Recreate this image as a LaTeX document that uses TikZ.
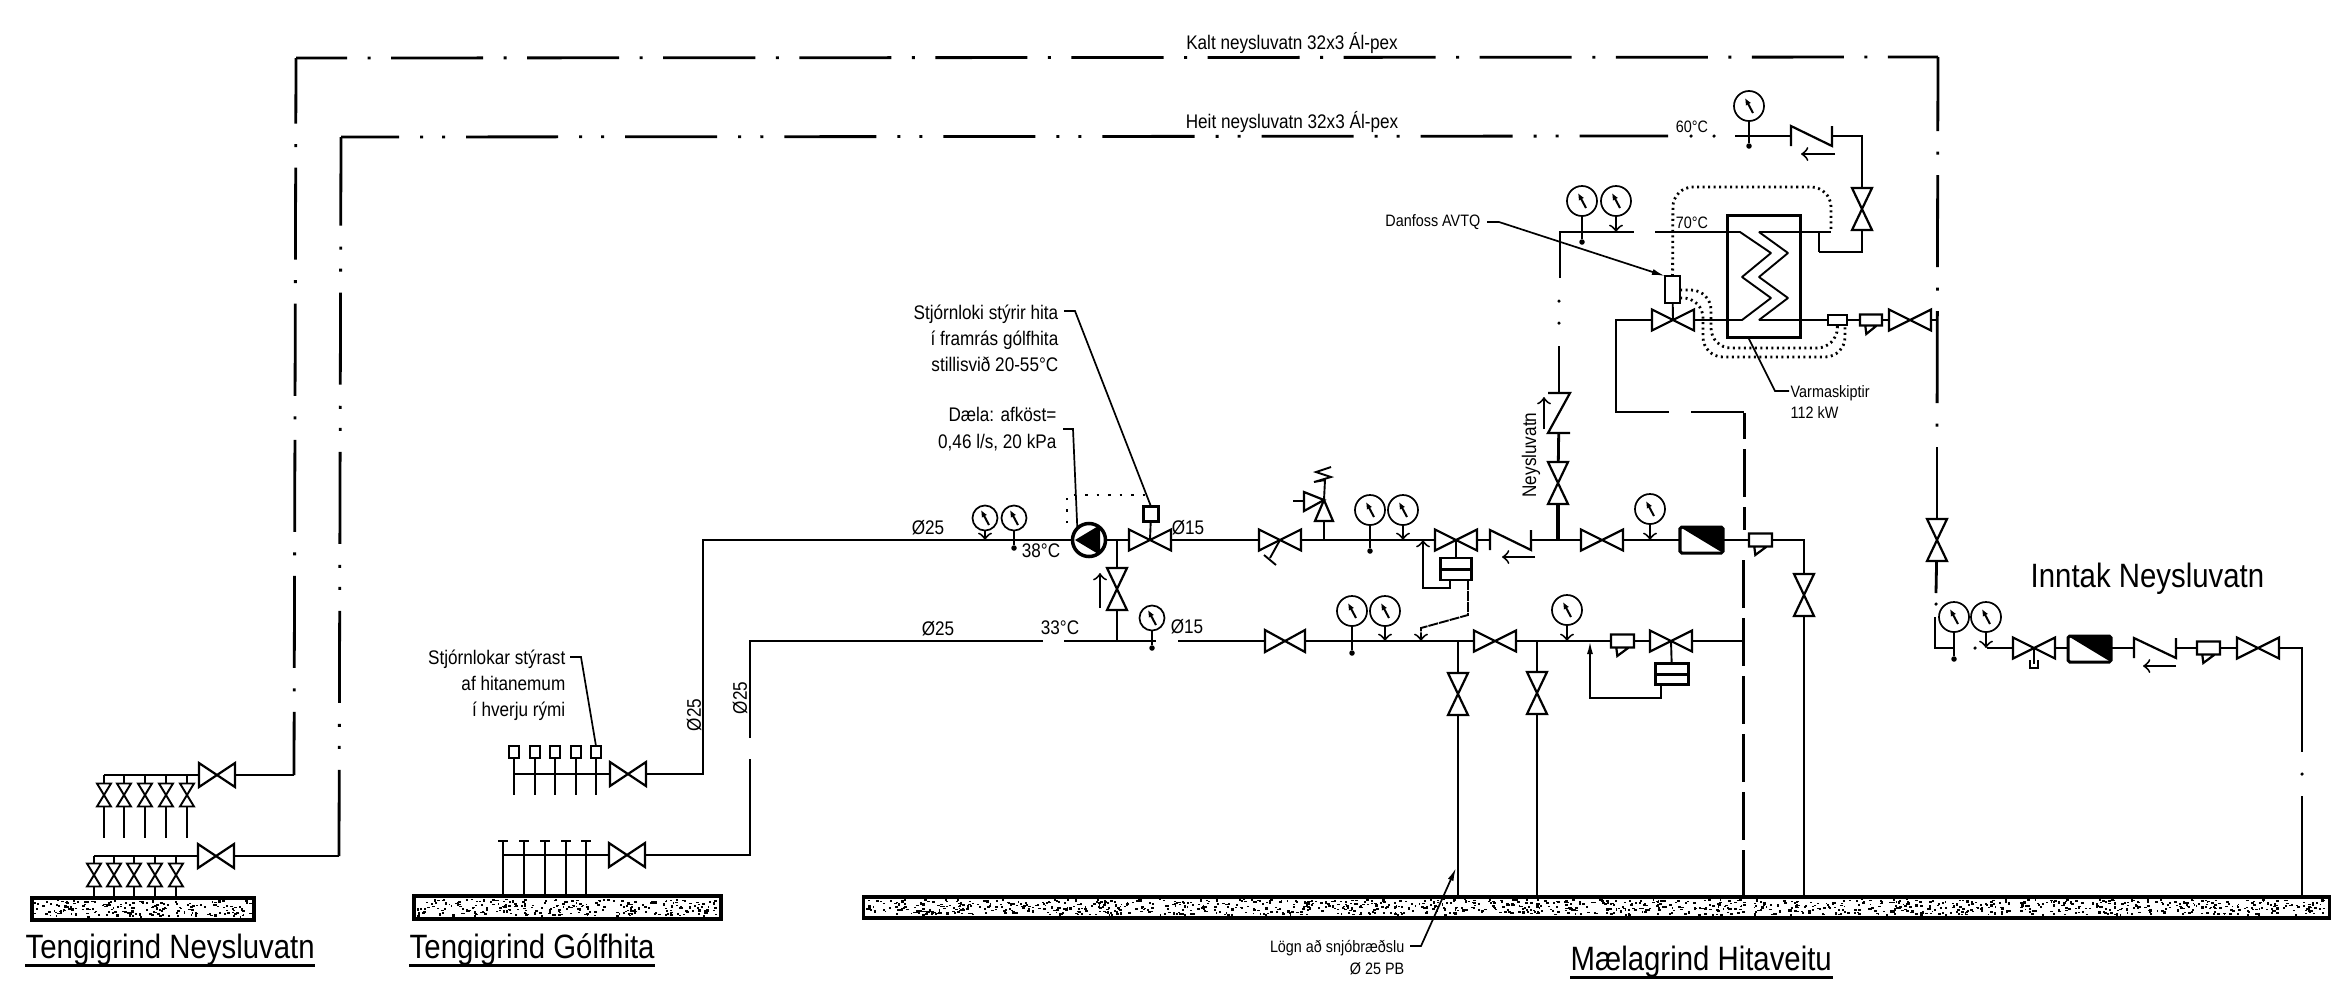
\documentclass[tikz,border=0pt]{standalone}
\usepackage{fontspec}
\usepackage{tikz}
\usetikzlibrary{arrows.meta}

\newfontfamily\narrowfont[FakeStretch=0.87]{Liberation Sans}
\newcommand{\bigtxt}{\narrowfont\fontsize{9.6}{11}\selectfont}
\newcommand{\midtxt}{\narrowfont\fontsize{5.6}{7.4}\selectfont}
\newcommand{\smalltxt}{\narrowfont\fontsize{4.7}{6}\selectfont}

\makeatletter
\def\symA{\pgfqpoint{\pgf@xa}{\pgf@ya}}
\def\symB{\pgfqpoint{\pgf@xb}{\pgf@yb}}
\def\symC{\pgfqpoint{\pgf@xb}{\pgf@ya}}
\def\symD{\pgfqpoint{\pgf@xa}{\pgf@yb}}
\newcommand{\declsymbol}[2]{%
  \pgfdeclareshape{#1}{%
    \inheritsavedanchors[from=rectangle]
    \inheritanchorborder[from=rectangle]
    \inheritanchor[from=rectangle]{center}
    \inheritanchor[from=rectangle]{north}
    \inheritanchor[from=rectangle]{south}
    \inheritanchor[from=rectangle]{east}
    \inheritanchor[from=rectangle]{west}
    \backgroundpath{%
      \southwest \pgf@xa=\pgf@x \pgf@ya=\pgf@y
      \northeast \pgf@xb=\pgf@x \pgf@yb=\pgf@y
      #2}}}
\declsymbol{bowtieh}{\pgfpathmoveto{\symA}\pgfpathlineto{\symB}\pgfpathlineto{\symC}\pgfpathlineto{\symD}\pgfpathclose}
\declsymbol{bowtiev}{\pgfpathmoveto{\symA}\pgfpathlineto{\symC}\pgfpathlineto{\symD}\pgfpathlineto{\symB}\pgfpathclose}
\declsymbol{slanth}{\pgfpathmoveto{\symA}\pgfpathlineto{\symD}\pgfpathlineto{\symC}\pgfpathlineto{\symB}}
\declsymbol{slantv}{\pgfpathmoveto{\symD}\pgfpathlineto{\symB}\pgfpathlineto{\symA}\pgfpathlineto{\symC}}
\declsymbol{strainer}{\pgfpathmoveto{\symA}\pgfpathlineto{\symC}\pgfpathlineto{\symB}\pgfpathlineto{\symD}\pgfpathclose
  \pgfpathmoveto{\pgfqpoint{\dimexpr\pgf@xa+1.5pt\relax}{\pgf@ya}}
  \pgfpathlineto{\pgfqpoint{\dimexpr\pgf@xa+1.8pt\relax}{\dimexpr\pgf@ya-2.4pt\relax}}
  \pgfpathlineto{\pgfqpoint{\dimexpr\pgf@xb-1.5pt\relax}{\pgf@ya}}}
\makeatother

% one gauge, arrow stem onto the pipe
\newcommand{\gaugearrow}[5][gauge]{
  \node[#1] (#2) at (#3,#4) {};
  \coordinate (#2p) at (#3,#5);
  \draw[stem,->] (#2) -- (#2p);
}
% one gauge, stem through the pipe to a dot
\newcommand{\gaugedot}[5][gauge]{
  \node[#1] (#2) at (#3,#4) {};
  \node[tapdot] (#2p) at (#3,#5) {};
  \draw[stem] (#2) -- (#2p);
}
\newcommand{\flow}[5]{
  \coordinate (#1s) at (#2,#3);
  \coordinate (#1e) at (#4,#5);
  \draw[stem,->] (#1s) -- (#1e);
}
\newcommand{\speckle}[5]{
  \foreach \n in {1,...,#5}{\fill ({#1+rnd*#3},{#2+rnd*#4}) rectangle +({1.5+rnd*1.5},{1+rnd*1.5});}
}

\begin{document}
\begin{tikzpicture}[x=.01cm,y=-.01cm,
    pipe/.style={line width=.028cm},
    stem/.style={line width=.019cm},
    sym/.style={draw,line width=.022cm,inner sep=0pt,outer sep=0pt},
    valveh/.style={sym,shape=bowtieh,fill=white,minimum width=.42cm,minimum height=.21cm},
    valvem/.style={sym,shape=bowtieh,fill=white,minimum width=.36cm,minimum height=.24cm},
    valvev/.style={sym,shape=bowtiev,fill=white,minimum width=.2cm,minimum height=.42cm},
    valves/.style={sym,shape=bowtiev,fill=white,line width=.019cm,minimum width=.14cm,minimum height=.23cm},
    checkh/.style={sym,shape=slanth,minimum width=.41cm,minimum height=.2cm},
    checkv/.style={sym,shape=slantv,minimum width=.22cm,minimum height=.4cm},
    strain/.style={sym,shape=strainer,fill=white,minimum width=.23cm,minimum height=.13cm},
    boxsm/.style={sym,rectangle,fill=white},
    floorbar/.style={draw,line width=.032cm,inner sep=0pt,outer sep=0pt},
    meter/.style={sym,rectangle,line width=.03cm,rounded corners=.5pt,minimum width=.43cm,minimum height=.26cm,
      path picture={\fill (path picture bounding box.north west) -- (path picture bounding box.north east) -- (path picture bounding box.south east) -- cycle;}},
    actuator/.style={sym,rectangle,fill=white,minimum width=.33cm,minimum height=.21cm,
      path picture={\draw[line width=.03cm] (path picture bounding box.west) -- (path picture bounding box.east);}},
    gauge/.style={draw,circle,line width=.017cm,fill=white,inner sep=0pt,outer sep=0pt,minimum size=.3cm,
      path picture={\draw[line width=.02cm,-{Latex[black,length=.07cm,width=.06cm]}] ([shift={(4,7)}]path picture bounding box.center) -- ([shift={(-4,-8)}]path picture bounding box.center);}},
    gaugesm/.style={gauge,minimum size=.25cm},
    tapdot/.style={circle,fill,inner sep=0pt,minimum size=.055cm},
    pipedot/.style={circle,fill,inner sep=0pt,minimum size=.035cm},
    coldline/.style={line width=.028cm,dash pattern=on .92cm off .205cm on .03cm off .205cm},
    hotline/.style={line width=.028cm,dash pattern=on .92cm off .21cm on .03cm off .19cm on .03cm off .21cm},
    longdash/.style={line width=.03cm,dash pattern=on .48cm off .10cm},
    dotline/.style={line width=.028cm,dash pattern=on .02cm off .035cm},
    leader/.style={line width=.017cm},
    slim/.style={-{Latex[length=.13cm,width=.06cm]}},
    >=to]
  \useasboundingbox (0,0) rectangle (2344,999);
  \pgfmathsetseed{7}

  % floors
  \node[floorbar,minimum width=2.22cm,minimum height=.22cm] (floorA) at (143,909) {};
  \node[floorbar,minimum width=3.07cm,minimum height=.23cm] (floorB) at (567.5,907.5) {};
  \node[floorbar,minimum width=14.65cm,minimum height=.21cm] (floorC) at (1596.5,907.5) {};
  \speckle{34}{900}{217}{16}{190}
  \speckle{416}{899}{302}{16}{270}
  \speckle{866}{899}{1458}{15}{1250}

  % Tengigrind Neysluvatn
  \node[valvem] (vColdA) at (217,775) {};
  \node[valvem] (vHotA) at (216,856) {};
  \coordinate (hdrCold) at (104,775);
  \coordinate (hdrHot) at (94,856);
  \draw[pipe] (hdrCold) -- (vColdA);
  \draw[pipe] (hdrHot) -- (vHotA);
  \foreach \x in {104,124,145,166,187}{
    \node[valves] (c\x) at (\x,795) {};
    \coordinate (cTop\x) at (\x,775);
    \coordinate (cEnd\x) at (\x,838);
    \draw[stem] (cTop\x) -- (c\x) -- (cEnd\x);
  }
  \foreach \x in {94,114,134,155,176}{
    \node[valves] (h\x) at (\x,875) {};
    \coordinate (hTop\x) at (\x,856);
    \coordinate (hEnd\x) at (\x,897);
    \draw[stem] (hTop\x) -- (h\x) -- (hEnd\x);
  }

  % kalt neysluvatn
  \coordinate (cBend) at (294,775);
  \coordinate (cTopL) at (296,58);
  \coordinate (cTopR) at (1938,57);
  \coordinate (cLow) at (1937,447);
  \draw[pipe] (vColdA) -- (cBend);
  \draw[coldline,dash phase=.29cm] (cBend) -- (cTopL);
  \draw[coldline,dash phase=.41cm] (cTopL) -- (cTopR);
  \draw[coldline,dash phase=.18cm] (cTopR) -- (cLow);

  % heitt neysluvatn
  \coordinate (hBend) at (339,856);
  \coordinate (hTopL) at (341,137);
  \coordinate (hRunA) at (1668,136);
  \coordinate (hRunB) at (1735,136);
  \coordinate (hRunC) at (1862,136);
  \coordinate (hRunD) at (1862,252);
  \coordinate (hRunE) at (1819,252);
  \draw[pipe] (vHotA) -- (hBend);
  \draw[hotline,dash phase=.06cm] (hBend) -- (hTopL);
  \draw[hotline,dash phase=.34cm] (hTopL) -- (hRunA);
  \node[pipedot] (dotHotA) at (1691,136) {};
  \node[pipedot] (dotHotB) at (1714,136) {};
  \node[checkh] (chkHot) at (1811.5,136) {};
  \node[valvev] (vHotB) at (1862,209) {};
  \draw[pipe] (hRunB) -- (chkHot);
  \draw[pipe] (chkHot) -- (hRunC) -- (vHotB);
  \draw[pipe] (vHotB) -- (hRunD) -- (hRunE);
  \gaugedot{gHotA}{1749}{106}{146}
  \flow{fHot}{1835}{154}{1801}{154}

  % Tengigrind Golfhita
  \node[valvem] (vGolfA) at (628,774) {};
  \node[valvem] (vGolfB) at (627,855) {};
  \coordinate (gHdrA) at (514,774);
  \coordinate (gHdrB) at (503,855);
  \draw[pipe] (gHdrA) -- (vGolfA);
  \draw[pipe] (gHdrB) -- (vGolfB);
  \foreach \x in {514,535,555,576,596}{
    \node[boxsm,minimum width=.1cm,minimum height=.12cm] (g\x) at (\x,752) {};
    \coordinate (gEnd\x) at (\x,795);
    \draw[stem] (g\x) -- (gEnd\x);
  }
  \foreach \x in {503,524,545,566,586}{
    \coordinate (gTop\x) at (\x,841);
    \coordinate (gLow\x) at (\x,896);
    \draw[stem] (gTop\x) -- (gLow\x);
    \draw[stem] ([xshift=-.05cm]gTop\x) -- ([xshift=.05cm]gTop\x);
  }

  % hitakerfi, efri lina
  \node[circle,draw,line width=.035cm,fill=white,inner sep=0pt,outer sep=0pt,minimum size=.33cm,
    path picture={\fill[black] ([shift={(-14,0)}]path picture bounding box.center) -- ([shift={(11,-15)}]path picture bounding box.center) -- ([shift={(11,15)}]path picture bounding box.center) -- cycle;}]
    (pump) at (1089,540) {};
  \node[valveh] (vTemp) at (1150,540) {};
  \node[boxsm,minimum size=.15cm] (bTemp) at (1151,514) {};
  \node[valveh] (vHand) at (1280,540) {};
  \node[valveh] (vAct) at (1456,540) {};
  \node[actuator,minimum width=.31cm,minimum height=.22cm] (aAct) at (1456,569) {};
  \node[checkh] (chkUp) at (1510.5,540) {};
  \node[valveh] (vUp) at (1602,540) {};
  \node[meter] (mUp) at (1701.5,540) {};
  \node[strain] (bUp) at (1760.5,540) {};
  \node[valvev] (vRight) at (1804,595) {};
  \node[valvev] (vBy) at (1117,589) {};
  \coordinate (gBendA) at (703,774);
  \coordinate (gBendB) at (703,540);
  \coordinate (upR) at (1804,540);
  \coordinate (upEnd) at (1804,897);
  \coordinate (byLow) at (1117,641);
  \coordinate (byUp) at (1117,540);
  \draw[pipe] (vGolfA) -- (gBendA) -- (gBendB) -- (pump);
  \draw[pipe] (pump) -- (vTemp);
  \draw[pipe] (vTemp) -- (vHand);
  \draw[pipe] (vHand) -- (vAct);
  \draw[pipe] (vAct) -- (chkUp);
  \draw[pipe] (chkUp) -- (vUp);
  \draw[pipe] (vUp) -- (mUp);
  \draw[pipe] (mUp) -- (bUp);
  \draw[pipe] (bUp) -- (upR) -- (vRight);
  \draw[pipe] (vRight) -- (upEnd);
  \draw[stem] (byUp) -- (vBy);
  \draw[pipe] (vBy) -- (byLow);
  \draw[stem] (vTemp.center) -- (bTemp);
  \draw[stem] (vAct.center) -- (aAct);
  \gaugearrow[gaugesm]{gA}{985}{518}{540}
  \gaugedot[gaugesm]{gB}{1014}{518}{548}
  \gaugedot{gC}{1370}{510}{551}
  \gaugearrow{gD}{1403}{510}{540}
  \gaugearrow{gE}{1650}{509}{540}
  \flow{fUp}{1535}{557}{1502}{557}
  \flow{fBy}{1100}{608}{1100}{573}

  % handfang og oryggisloki
  \coordinate (hdlA) at (1270,558);
  \coordinate (hdlB) at (1264,555);
  \coordinate (hdlC) at (1276,565);
  \draw[stem] (vHand.center) -- (hdlA);
  \draw[stem] (hdlB) -- (hdlC);
  \coordinate (safeA) at (1324,540);
  \coordinate (safeB) at (1324,521);
  \draw[stem] (safeA) -- (safeB);
  \draw[sym,fill=white] (1315,521) -- (1324,500) -- (1333,521) -- cycle;
  \draw[sym,fill=white] (1304,492) -- (1324,500) -- (1304,511) -- cycle;
  \draw[stem] (1293,501) -- (1304,501);
  \draw[stem] (1324,500) -- (1325,480) -- (1314,482) -- (1331,477) -- (1316,472) -- (1331,467);

  % stjornlina fra dalu
  \draw[stem,dash pattern=on .025cm off .09cm] (1067,523) -- (1067,495) -- (1151,495);

  % hitakerfi, nedri lina
  \node[valveh,minimum width=.4cm,minimum height=.22cm] (vLowA) at (1285,641) {};
  \node[valveh] (vLowB) at (1495,641) {};
  \node[strain] (bLow) at (1622.5,641) {};
  \node[valveh] (vLowC) at (1671,641) {};
  \node[actuator] (aLow) at (1672,674) {};
  \node[valvev] (vDownA) at (1458,694) {};
  \node[valvev] (vDownB) at (1537,693) {};
  \coordinate (gGapA) at (750,759);
  \coordinate (gBendC) at (750,855);
  \coordinate (gGapB) at (750,738);
  \coordinate (gBendD) at (750,641);
  \coordinate (rowA) at (1043,641);
  \coordinate (rowB) at (1064,641);
  \coordinate (rowC) at (1156,641);
  \coordinate (rowD) at (1178,641);
  \coordinate (rowE) at (1743,641);
  \coordinate (dnA) at (1458,641);
  \coordinate (dnB) at (1458,897);
  \coordinate (dnC) at (1537,641);
  \coordinate (dnD) at (1537,897);
  \draw[pipe] (vGolfB) -- (gBendC) -- (gGapA);
  \draw[pipe] (gGapB) -- (gBendD) -- (rowA);
  \draw[pipe] (rowB) -- (rowC);
  \draw[pipe] (rowD) -- (vLowA);
  \draw[pipe] (vLowA) -- (vLowB);
  \draw[pipe] (vLowB) -- (bLow);
  \draw[pipe] (bLow) -- (vLowC);
  \draw[pipe] (vLowC) -- (rowE);
  \draw[pipe] (dnA) -- (vDownA);
  \draw[pipe] (vDownA) -- (dnB);
  \draw[pipe] (dnC) -- (vDownB);
  \draw[pipe] (vDownB) -- (dnD);
  \draw[stem] (vLowC.center) -- (aLow);
  \gaugedot[gaugesm]{gF}{1152}{618}{648}
  \gaugedot{gG}{1352}{611}{653}
  \gaugearrow{gH}{1385}{611}{641}
  \gaugearrow{gI}{1567}{610}{641}

  % impulslinur
  \coordinate (impA) at (1450,588);
  \coordinate (impB) at (1423,588);
  \coordinate (impC) at (1423,540);
  \coordinate (impD) at (1468,615);
  \coordinate (impE) at (1421,628);
  \coordinate (impF) at (1421,641);
  \coordinate (impG) at (1661,698);
  \coordinate (impH) at (1590,698);
  \coordinate (impI) at (1590,641);
  \draw[stem,->] (aAct.south -| impA) -- (impA) -- (impB) -- (impC);
  \draw[stem,->,dash pattern=on .1cm off .01cm] (aAct.south -| impD) -- (impD) -- (impE) -- (impF);
  \draw[stem,slim] (aLow.south -| impG) -- (impG) -- (impH) -- (impI);

  % neysluvatn upp
  \node[valvev] (vN) at (1558,483) {};
  \node[checkv] (chkN) at (1559,413) {};
  \coordinate (nTee) at (1558,540);
  \coordinate (nA) at (1559,346);
  \coordinate (nB) at (1560,278);
  \coordinate (nC) at (1560,232);
  \coordinate (rowTopA) at (1634,232);
  \coordinate (rowTopB) at (1655,232);
  \coordinate (rowTopC) at (1831,232);
  \coordinate (bendX) at (1819,232);
  \node[pipedot] (dotNA) at (1559,323) {};
  \node[pipedot] (dotNB) at (1559,301) {};
  \draw[pipe,line width=.04cm] (nTee) -- (vN);
  \draw[pipe] (vN) -- (chkN);
  \draw[pipe] (chkN) -- (nA);
  \draw[pipe] (nB) -- (nC) -- (rowTopA);
  \flow{fN}{1544}{429}{1544}{397}
  \gaugedot{gJ}{1582}{201}{242}
  \gaugearrow{gK}{1616}{201}{232}

  % varmaskiptir
  \node[draw,line width=.03cm,inner sep=0pt,outer sep=0pt,minimum width=.72cm,minimum height=1.21cm] (hx) at (1764,276.5) {};
  \node[valveh] (vAvt) at (1673,320) {};
  \node[boxsm,minimum width=.15cm,minimum height=.27cm] (avtq) at (1672.5,289.5) {};
  \node[boxsm,minimum width=.19cm,minimum height=.1cm] (bHxA) at (1837.5,320) {};
  \node[strain,minimum width=.22cm,minimum height=.11cm] (bHxB) at (1871,320) {};
  \node[valveh] (vHxC) at (1910,320) {};
  \node[valvev] (vIn) at (1937,540) {};
  \coordinate (botA) at (1616,320);
  \coordinate (botB) at (1616,412);
  \coordinate (botC) at (1669,412);
  \coordinate (botD) at (1691,412);
  \coordinate (botE) at (1744,412);
  \coordinate (hxTee) at (1937,320);
  \draw[pipe] (rowTopB) -- (rowTopB -| hx.west);
  \draw[pipe] (rowTopB -| hx.east) -- (rowTopC);
  \draw[pipe] (bendX) -- (hRunE);
  \draw[pipe] (vAvt) -- (botA) -- (botB) -- (botC);
  \draw[pipe] (botD) -- (botE);
  \draw[pipe] (vAvt) -- (vAvt -| hx.west);
  \draw[pipe] (vAvt -| hx.east) -- (bHxA);
  \draw[pipe] (bHxA) -- (bHxB);
  \draw[pipe] (bHxB) -- (vHxC);
  \draw[pipe] (vHxC) -- (hxTee);
  \draw[stem] (vAvt.center) -- (avtq);
  \draw[stem,line join=bevel] (1728,232) -- (1740,232) -- (1771,253) -- (1742,277) -- (1771,298) -- (1742,320) -- (1728,320);
  \draw[stem,line join=bevel] (1800,232) -- (1759,232) -- (1788,253) -- (1759,277) -- (1788,298) -- (1759,320) -- (1800,320);

  % hitanemalinur
  \coordinate (dtA) at (1673,187);
  \coordinate (dtB) at (1831,187);
  \coordinate (dmA) at (1711,290);
  \coordinate (dmB) at (1711,348);
  \coordinate (dmC) at (1837,348);
  \coordinate (dlA) at (1703,298);
  \coordinate (dlB) at (1703,357);
  \coordinate (dlC) at (1845,357);
  \coordinate (dlD) at (1845,326);
  \draw[dotline,rounded corners=.2cm] (avtq) -- (dtA) -- (dtB) -- (rowTopC);
  \draw[dotline,rounded corners=.2cm] (avtq.east |- dmA) -- (dmA) -- (dmB) -- (dmC) -- (bHxA);
  \draw[dotline,rounded corners=.2cm] (avtq.east |- dlA) -- (dlA) -- (dlB) -- (dlC) -- (dlD);

  % inntak
  \coordinate (inA) at (1936,593);
  \coordinate (inB) at (1935,617);
  \coordinate (inC) at (1935,648);
  \coordinate (inD) at (1955,648);
  \coordinate (inE) at (1987,648);
  \coordinate (inF) at (2302,648);
  \coordinate (inG) at (2302,752);
  \coordinate (inH) at (2302,796);
  \coordinate (inI) at (2302,897);
  \node[pipedot] (dotInA) at (1936,604) {};
  \node[pipedot] (dotInB) at (1975,648) {};
  \node[pipedot] (dotInC) at (2302,774) {};
  \node[valveh] (vInA) at (2034,648) {};
  \node[meter] (mIn) at (2089.5,649) {};
  \node[checkh,minimum width=.42cm] (chkIn) at (2155,648) {};
  \node[strain] (bIn) at (2208.5,648) {};
  \node[valveh] (vInB) at (2258,648) {};
  \draw[pipe] (cLow) -- (vIn);
  \draw[pipe] (vIn) -- (inA);
  \draw[pipe] (inB) -- (inC) -- (inD);
  \draw[pipe] (inE) -- (vInA);
  \draw[pipe] (vInA) -- (mIn.west |- vInA);
  \draw[pipe] (mIn.east |- vInA) -- (chkIn);
  \draw[pipe] (chkIn) -- (bIn);
  \draw[pipe] (bIn) -- (vInB);
  \draw[pipe] (vInB) -- (inF) -- (inG);
  \draw[pipe] (inH) -- (inI);
  \draw[stem] (vInA.center) -- (2034,664);
  \draw[stem] (2030,660) -- (2030,668) -- (2038,668) -- (2038,660);
  \gaugedot{gL}{1954}{617}{659}
  \gaugearrow{gM}{1986}{617}{648}
  \flow{fIn}{2176}{666}{2143}{666}

  % deilistokkur, brotin lina
  \coordinate (lineA) at (1744,413);
  \coordinate (lineB) at (1744,530);
  \coordinate (lineC) at (1743,560);
  \coordinate (lineD) at (1743,897);
  \draw[longdash,dash phase=.22cm] (lineA) -- (lineB);
  \draw[longdash] (lineC) -- (lineD);

  % texts
  \node[font=\bigtxt,inner sep=0pt,anchor=base west] (txtNeys) at (25,958) {Tengigrind Neysluvatn};
  \node[font=\bigtxt,inner sep=0pt,anchor=base west] (txtGolf) at (409,958) {Tengigrind Gólfhita};
  \node[font=\bigtxt,inner sep=0pt,anchor=base west] (txtMael) at (1570,970) {Mælagrind Hitaveitu};
  \node[font=\bigtxt,inner sep=0pt,anchor=base west] (txtInn) at (2030,587) {Inntak Neysluvatn};
  \draw[pipe] (txtNeys.south west) -- (txtNeys.south east);
  \draw[pipe] (txtGolf.south west) -- (txtGolf.south east);
  \draw[pipe] (txtMael.south west) -- (txtMael.south east);
  \node[font=\midtxt] (txtKalt) at (1292,43) {Kalt neysluvatn 32x3 Ál-pex};
  \node[font=\midtxt] (txtHeit) at (1292,122) {Heit neysluvatn 32x3 Ál-pex};
  \node[font=\midtxt] (txtD1) at (928,528) {Ø25};
  \node[font=\midtxt] (txtD2) at (938,629) {Ø25};
  \node[font=\midtxt] (txtD3) at (1188,528) {Ø15};
  \node[font=\midtxt] (txtD4) at (1187,627) {Ø15};
  \node[font=\midtxt,rotate=90] (txtD5) at (694,715) {Ø25};
  \node[font=\midtxt,rotate=90] (txtD6) at (740,698) {Ø25};
  \node[font=\midtxt] (txtT1) at (1041,551) {38°C};
  \node[font=\midtxt] (txtT2) at (1060,628) {33°C};
  \node[font=\smalltxt] (txtT3) at (1692,127) {60°C};
  \node[font=\smalltxt] (txtT4) at (1692,223) {70°C};
  \node[font=\midtxt,rotate=90] (txtNup) at (1531,455) {Neysluvatn};
  \node[font=\midtxt,align=right,anchor=north east,inner sep=0pt] (noteLoki) at (1059,304) {Stjórnloki stýrir hita\\í framrás gólfhita\\stillisvið 20-55°C};
  \node[font=\midtxt,align=right,anchor=north east,inner sep=0pt] (notePump) at (1057,407) {Dæla: afköst=\\0,46 l/s, 20 kPa};
  \node[font=\midtxt,align=right,anchor=north east,inner sep=0pt] (noteLokar) at (566,649) {Stjórnlokar stýrast\\af hitanemum\\í hverju rými};
  \node[font=\smalltxt,anchor=east,inner sep=0pt] (noteDanf) at (1481,222) {Danfoss AVTQ};
  \node[font=\smalltxt,align=left,anchor=north west,inner sep=0pt] (noteVarm) at (1790,385) {Varmaskiptir\\112 kW};
  \node[font=\smalltxt,align=right,anchor=north east,inner sep=0pt] (noteLogn) at (1405,940) {Lögn að snjóbræðslu\\Ø 25 PB};

  % leaders
  \coordinate (ldLokiA) at (1064,311);
  \coordinate (ldLokiB) at (1075,311);
  \coordinate (ldPumpA) at (1063,429);
  \coordinate (ldPumpB) at (1073,429);
  \coordinate (ldLokarA) at (570,657);
  \coordinate (ldLokarB) at (581,657);
  \coordinate (ldDanfA) at (1487,222);
  \coordinate (ldDanfB) at (1499,222);
  \coordinate (ldVarmA) at (1748,337);
  \coordinate (ldVarmB) at (1775,391);
  \coordinate (ldVarmC) at (1789,391);
  \coordinate (ldLognA) at (1410,946);
  \coordinate (ldLognB) at (1421,946);
  \coordinate (ldLognC) at (1456,868);
  \draw[leader] (ldLokiA) -- (ldLokiB) -- (bTemp.north);
  \draw[leader] (ldPumpA) -- (ldPumpB) -- (pump.north west);
  \draw[leader] (ldLokarA) -- (ldLokarB) -- (g596.north);
  \draw[leader,slim] (ldDanfA) -- (ldDanfB) -- (avtq.north west);
  \draw[leader] (ldVarmA) -- (ldVarmB) -- (ldVarmC);
  \draw[leader,slim] (ldLognA) -- (ldLognB) -- (ldLognC);
\end{tikzpicture}
\end{document}
